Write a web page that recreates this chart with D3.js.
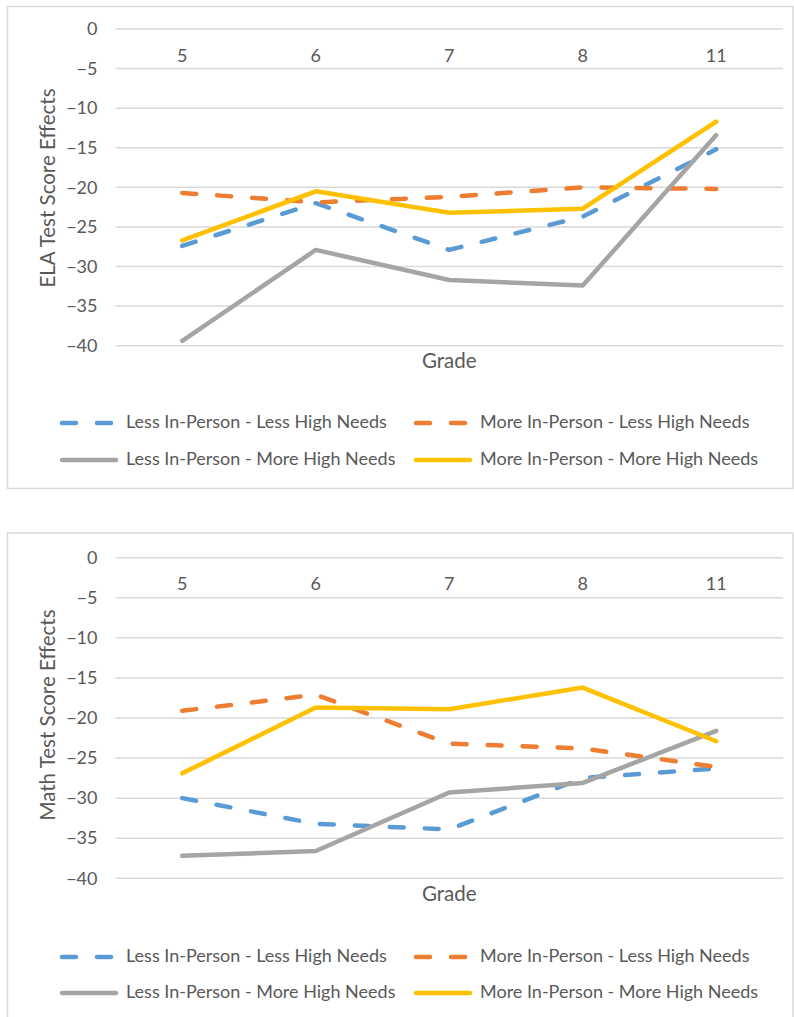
<!DOCTYPE html>
<html>
<head>
<meta charset="utf-8">
<script src="https://cdn.jsdelivr.net/npm/d3@7"></script>
<style>
  html, body { margin: 0; padding: 0; background: #ffffff; }
  svg { display: block; }
  text { font-family: Lato, "Noto Sans", sans-serif; fill: #595959; }
</style>
</head>
<body>
<svg id="chart" width="794" height="1017"></svg>
<script>
// Grade levels along the category axis
const grades = ["5", "6", "7", "8", "11"];
// Value axis ticks
const yTicks = [0, -5, -10, -15, -20, -25, -30, -35, -40];
// Series names
const seriesNames = [
  "Less In-Person - Less High Needs",
  "More In-Person - Less High Needs",
  "Less In-Person - More High Needs",
  "More In-Person - More High Needs"
];

// ELA test score effects by grade
const elaLessLess = [-27.4, -22.0, -27.9, -23.7, -15.2];
const elaMoreLess = [-20.7, -21.9, -21.2, -20.0, -20.2];
const elaLessMore = [-39.4, -27.9, -31.7, -32.4, -13.4];
const elaMoreMore = [-26.7, -20.5, -23.2, -22.7, -11.7];

// Math test score effects by grade
const mathLessLess = [-30.0, -33.2, -33.9, -27.5, -26.3];
const mathMoreLess = [-19.1, -17.1, -23.2, -23.8, -26.1];
const mathLessMore = [-37.2, -36.6, -29.3, -28.1, -21.6];
const mathMoreMore = [-26.9, -18.7, -18.9, -16.2, -22.9];

const colors = ["#5B9BD5", "#ED7D31", "#A5A5A5", "#FFC000"];
const dashed = [true, true, false, false];

const labelFont = "Lato, 'Noto Sans', sans-serif";
const labelSize = "18px";
const titleSize = "20.5px";

const svg = d3.select("#chart");

function drawPanel(cfg) {
  const g = svg.append("g");

  // Chart area frame
  g.append("rect")
    .attr("x", cfg.box[0]).attr("y", cfg.box[1])
    .attr("width", cfg.box[2] - cfg.box[0]).attr("height", cfg.box[3] - cfg.box[1])
    .attr("fill", "none").attr("stroke", "#d9d9d9").attr("stroke-width", 1.5);

  const x = d3.scaleBand().domain(grades).range([cfg.plotLeft, cfg.plotRight]);
  const y = d3.scaleLinear().domain([0, -40]).range([cfg.plotTop, cfg.plotBottom]);

  // Horizontal gridlines
  g.append("g").selectAll("line").data(yTicks).join("line")
    .attr("x1", cfg.plotLeft).attr("x2", cfg.plotRight)
    .attr("y1", d => y(d)).attr("y2", d => y(d))
    .attr("stroke", "#d9d9d9").attr("stroke-width", 1.5);

  // Value axis labels
  const yAxis = d3.axisLeft(y).tickValues(yTicks).tickSize(0).tickPadding(0);
  const ya = g.append("g").attr("transform", `translate(${cfg.plotLeft - 18},0)`).call(yAxis);
  ya.select(".domain").remove();
  ya.selectAll("text").style("font-family", labelFont)
    .style("font-size", labelSize).style("fill", "#595959");

  // Category labels sit just below the zero line
  const xAxis = d3.axisTop(x).tickSize(0).tickPadding(0);
  const xa = g.append("g").attr("transform", `translate(0,${cfg.catY})`).call(xAxis);
  xa.select(".domain").remove();
  xa.selectAll("text").style("font-family", labelFont)
    .style("font-size", labelSize).style("fill", "#595959");

  // Axis titles
  g.append("text")
    .attr("transform", `translate(${cfg.yTitleX},${cfg.yTitleY}) rotate(-90)`)
    .attr("text-anchor", "middle").attr("dominant-baseline", "middle")
    .style("font-size", titleSize).text(cfg.yTitle);
  g.append("text")
    .attr("x", x("7") + x.bandwidth() / 2).attr("y", cfg.gradeY)
    .attr("text-anchor", "middle").attr("dominant-baseline", "middle")
    .style("font-size", titleSize).text("Grade");

  // Series lines
  const line = d3.line()
    .x((d, i) => x(grades[i]) + x.bandwidth() / 2)
    .y(d => y(d));
  cfg.series.forEach((vals, k) => {
    g.append("path").datum(vals)
      .attr("d", line)
      .attr("fill", "none")
      .attr("stroke", colors[k])
      .attr("stroke-width", 4.5)
      .attr("stroke-linejoin", "round")
      .attr("stroke-linecap", "round")
      .attr("stroke-dasharray", dashed[k] ? "14,21" : null);
  });

  // Legend, two columns by two rows
  const legX = [62, 416];
  const legY = cfg.legendY;
  seriesNames.forEach((name, k) => {
    const col = k % 2, row = Math.floor(k / 2);
    const lx = legX[col], ly = legY[row];
    g.append("line")
      .attr("x1", lx).attr("x2", lx + 54)
      .attr("y1", ly).attr("y2", ly)
      .attr("stroke", colors[k]).attr("stroke-width", 4.5)
      .attr("stroke-linecap", "round")
      .attr("stroke-dasharray", dashed[k] ? "14,21" : null);
    g.append("text")
      .attr("x", lx + 64).attr("y", ly)
      .attr("dominant-baseline", "middle")
      .style("font-size", labelSize).text(name);
  });
}

drawPanel({
  box: [7.5, 6.5, 793, 488.5],
  plotLeft: 115.5, plotRight: 783,
  plotTop: 29, plotBottom: 345.7,
  catY: 62,
  yTitle: "ELA Test Score Effects", yTitleX: 50, yTitleY: 188,
  gradeY: 363,
  legendY: [423, 460],
  series: [elaLessLess, elaMoreLess, elaLessMore, elaMoreMore]
});

drawPanel({
  box: [7.5, 533, 793, 1030],
  plotLeft: 115.5, plotRight: 783,
  plotTop: 557.7, plotBottom: 878.3,
  catY: 590,
  yTitle: "Math Test Score Effects", yTitleX: 50, yTitleY: 715,
  gradeY: 896,
  legendY: [957, 993],
  series: [mathLessLess, mathMoreLess, mathLessMore, mathMoreMore]
});
</script>
</body>
</html>
